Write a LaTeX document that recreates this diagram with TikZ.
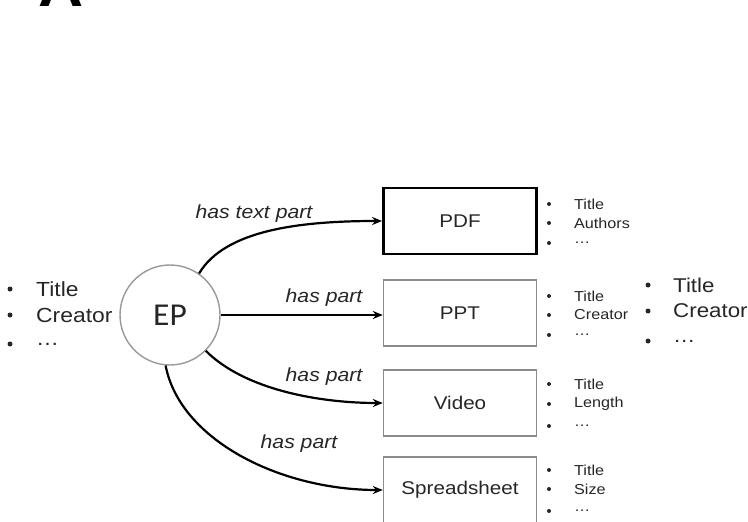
\documentclass[tikz,border=0pt]{standalone}
\usepackage{fontspec}
\setmainfont{Liberation Sans}[FakeStretch=1.12]
\newfontfamily\epfont{Carlito}[FakeStretch=1.05]
\usetikzlibrary{arrows.meta}
\begin{document}
\begin{tikzpicture}[x=1bp,y=-1bp,
  part/.style={draw=black!45, line width=1.4bp, minimum width=153bp, minimum height=66bp, inner sep=0pt, font=\fontsize{18.5}{20}\selectfont, text=black!85},
  rel/.style={line width=2.2bp, -{Stealth[length=10bp,width=8bp]}},
  lbl/.style={font=\fontsize{19}{22}\selectfont\itshape, text=black!85},
  small/.style={font=\fontsize{14.5}{16}\selectfont, anchor=west, text=black!85, inner sep=0pt},
  big/.style={font=\fontsize{20}{22}\selectfont, anchor=west, text=black!85, inner sep=0pt},
  dot/.style={circle, fill=black!85, inner sep=0pt, minimum size=5bp}]
\useasboundingbox (0,0) rectangle (748,522);
\clip (0,0) rectangle (748,522);
% cut-off heading fragment
\node[anchor=base, font=\fontsize{56}{56}\selectfont\bfseries, inner sep=0pt] (head) at (61,7) {A};
% central node
\node[circle, draw=black!40, line width=1.4bp, minimum size=100bp, inner sep=0pt, font=\epfont\fontsize{32}{32}\selectfont, text=black!85] (ep) at (170,315) {EP};
% parts
\node[part, draw=black, line width=2.8bp] (pdf) at (460,221) {PDF};
\node[part] (ppt) at (460,313) {PPT};
\node[part] (video) at (460,403) {Video};
\node[part] (sheet) at (460,490) {Spreadsheet};
% connectors
\draw[rel] (ep.55) .. controls (225,230) and (300,221) .. (pdf.west);
\draw[rel] (ep.east) -- (ppt.west |- ep.east);
\draw[rel] (ep.-45) .. controls (245,390) and (320,403) .. (video.west);
\draw[rel] (ep.-95) .. controls (180,440) and (280,490) .. (sheet.west);
% labels
\node[lbl] (l1) at (254,214) {has text part};
\node[lbl] (l2) at (324,298) {has part};
\node[lbl] (l3) at (324,377) {has part};
\node[lbl] (l4) at (299,444) {has part};
% left list
\foreach \y/\t [count=\i] in {289/Title,315/Creator,344/\dots}{
  \node[dot] (ld\i) at (10,\y) {};
  \node[big, font=\fontsize{20.5}{22}\selectfont] (lt\i) at (36,\y) {\t};
}
% big right list
\foreach \y/\t [count=\i] in {285/Title,311/Creator,341/\dots}{
  \node[dot] (rd\i) at (648,\y) {};
  \node[big] (rt\i) at (673,\y) {\t};
}
% small lists
\foreach \y/\t [count=\i] in {204/Title,223/Authors,243/\dots}{
  \node[dot, minimum size=4bp] (ad\i) at (549,\y) {};
  \node[small] (at\i) at (574,\y) {\t};
}
\foreach \y/\t [count=\i] in {296/Title,315/Creator,335/\dots}{
  \node[dot, minimum size=4bp] (bd\i) at (549,\y) {};
  \node[small] (bt\i) at (574,\y) {\t};
}
\foreach \y/\t [count=\i] in {384/Title,404/Length,426/\dots}{
  \node[dot, minimum size=4bp] (cd\i) at (549,\y) {};
  \node[small] (ct\i) at (574,\y) {\t};
}
\foreach \y/\t [count=\i] in {470/Title,489/Size,511/\dots}{
  \node[dot, minimum size=4bp] (dd\i) at (549,\y) {};
  \node[small] (dt\i) at (574,\y) {\t};
}
\end{tikzpicture}
\end{document}
